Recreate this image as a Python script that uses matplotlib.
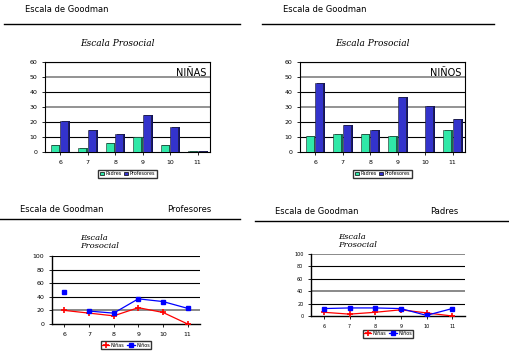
import matplotlib.pyplot as plt
import numpy as np

edades = ['6', '7', '8', '9', '10', '11']

# barras: Padres (verde) y Profesores (azul)
ninas_padres = [5, 3, 6, 10, 5, 1]
ninas_prof = [21, 15, 12, 25, 17, 1]
ninos_padres = [11, 12, 12, 11, 0, 15]
ninos_prof = [46, 18, 15, 37, 31, 22]

# lineas: Profesores y Padres
prof_ninas = [20, 16, 12, 24, 17, 0]
prof_ninos = [47, 19, 16, 37, 33, 23]
padres_ninas = [6, 3, 6, 10, 5, 0]
padres_ninos = [12, 13, 13, 12, 1, 12]

verde = '#30e8a8'
azul = '#3333cc'
W, H = 510, 357

fig = plt.figure(figsize=(5.1, 3.57), dpi=100)


def box(l, t, r, b):
    return [l / W, 1 - b / H, (r - l) / W, (b - t) / H]


def fx(x):
    return x / W


def fy(y):
    return 1 - y / H


def encabezado(x0, x1, y_line, x_txt, y_txt, extra=None, x_extra=None):
    fig.text(fx(x_txt), fy(y_txt), 'Escala de Goodman', fontsize=6, va='center')
    if extra:
        fig.text(fx(x_extra), fy(y_txt), extra, fontsize=6, va='center')
    fig.add_artist(plt.Line2D([fx(x0), fx(x1)], [fy(y_line), fy(y_line)],
                              color='black', lw=1))


def barras(pos, padres, prof, etiqueta, titulo_xy):
    ax = fig.add_axes(pos)
    x = np.arange(len(edades))
    w = 0.3
    for vals, off, c in [(padres, -0.15, verde), (prof, 0.2, azul)]:
        # lado oscuro para dar efecto 3D
        ax.bar(x + off + 0.06, vals, w, color='#101060' if c == azul else '#107050',
               zorder=2)
        ax.bar(x + off, vals, w, color=c, edgecolor='#202020', lw=0.4, zorder=3)
    ax.set_ylim(0, 60)
    ax.set_xlim(-0.5, 5.5)
    ax.set_yticks(range(0, 61, 10))
    ax.set_xticks(x + 0.05)
    ax.set_xticklabels(edades)
    ax.tick_params(labelsize=4.5, length=2, width=0.6)
    for yv in range(10, 61, 10):
        ax.axhline(yv, color='gray' if yv in (30, 50) else 'black',
                   lw=1.2 if yv in (30, 50) else 0.8, zorder=1)
    for s in ax.spines.values():
        s.set_linewidth(0.8)
    ax.text(0.98, 0.93, etiqueta, transform=ax.transAxes, ha='right', va='top',
            fontsize=7)
    fig.text(fx(titulo_xy[0]), fy(titulo_xy[1]), 'Escala Prosocial', fontsize=6.5,
             style='italic', family='serif', ha='center', va='center')
    h1 = plt.Rectangle((0, 0), 1, 1, fc=verde, ec='black', lw=0.5)
    h2 = plt.Rectangle((0, 0), 1, 1, fc=azul, ec='black', lw=0.5)
    ax.legend([h1, h2], ['Padres', 'Profesores'], loc='upper center',
              bbox_to_anchor=(0.5, -0.17), ncol=2, fontsize=3.5, frameon=True,
              fancybox=False, edgecolor='black', handlelength=0.8, handleheight=0.8,
              columnspacing=0.6, handletextpad=0.3, borderpad=0.3)
    return ax


def lineas(pos, ninas, ninos, grises, titulo_xy, leg_y, separar=False, lsize=4.5):
    ax = fig.add_axes(pos)
    x = np.arange(len(edades))
    for yv in range(20, 101, 20):
        ax.axhline(yv, color='gray' if yv in grises else 'black',
                   lw=1.3 if yv in grises else 0.8, zorder=1)
    ax.plot(x, ninas, color='red', marker='+', ms=4, mew=1.2, lw=0.9,
            label='Niñas', zorder=3)
    if separar:
        ax.plot(x[:1], ninos[:1], color='blue', marker='s', ms=3, lw=0, zorder=3)
        ax.plot(x[1:], ninos[1:], color='blue', marker='s', ms=3, lw=0.9,
                label='Niños', zorder=3)
    else:
        ax.plot(x, ninos, color='blue', marker='s', ms=3, lw=0.9,
                label='Niños', zorder=3)
    ax.set_ylim(0, 100)
    ax.set_xlim(-0.5, 5.5)
    ax.set_yticks(range(0, 101, 20))
    ax.set_xticks(x)
    ax.set_xticklabels(edades)
    ax.tick_params(labelsize=lsize, length=2, width=0.6)
    for s in ax.spines.values():
        s.set_visible(False)
    ax.spines['left'].set_visible(True)
    ax.spines['bottom'].set_visible(True)
    ax.spines['left'].set_linewidth(1)
    ax.spines['bottom'].set_linewidth(1)
    fig.text(fx(titulo_xy[0]), fy(titulo_xy[1]), 'Escala\nProsocial', fontsize=6,
             style='italic', family='serif', ha='left', va='center',
             linespacing=1.0)
    ax.legend(loc='upper center', bbox_to_anchor=(0.5, leg_y), ncol=2, fontsize=3.5,
              frameon=True, fancybox=False, edgecolor='black', handlelength=1.5,
              columnspacing=0.6, handletextpad=0.3, borderpad=0.3)
    return ax


encabezado(4, 240, 24, 25, 10)
encabezado(262, 494, 24, 283, 10)
encabezado(0, 240, 219, 20, 210, 'Profesores', 167)
encabezado(255, 510, 221, 275, 212, 'Padres', 430)

barras(box(45, 62, 210, 152), ninas_padres, ninas_prof, 'NIÑAS', (117, 44))
barras(box(300, 62, 465, 152), ninos_padres, ninos_prof, 'NIÑOS', (372, 44))

lineas(box(52, 256, 200, 324), prof_ninas, prof_ninos, (20,), (80, 242), -0.22,
       separar=True)
lineas(box(311, 254, 465, 316), padres_ninas, padres_ninos, (40, 100), (338, 241),
       -0.18, lsize=3.5)

fig.savefig('out.png', dpi=100)
